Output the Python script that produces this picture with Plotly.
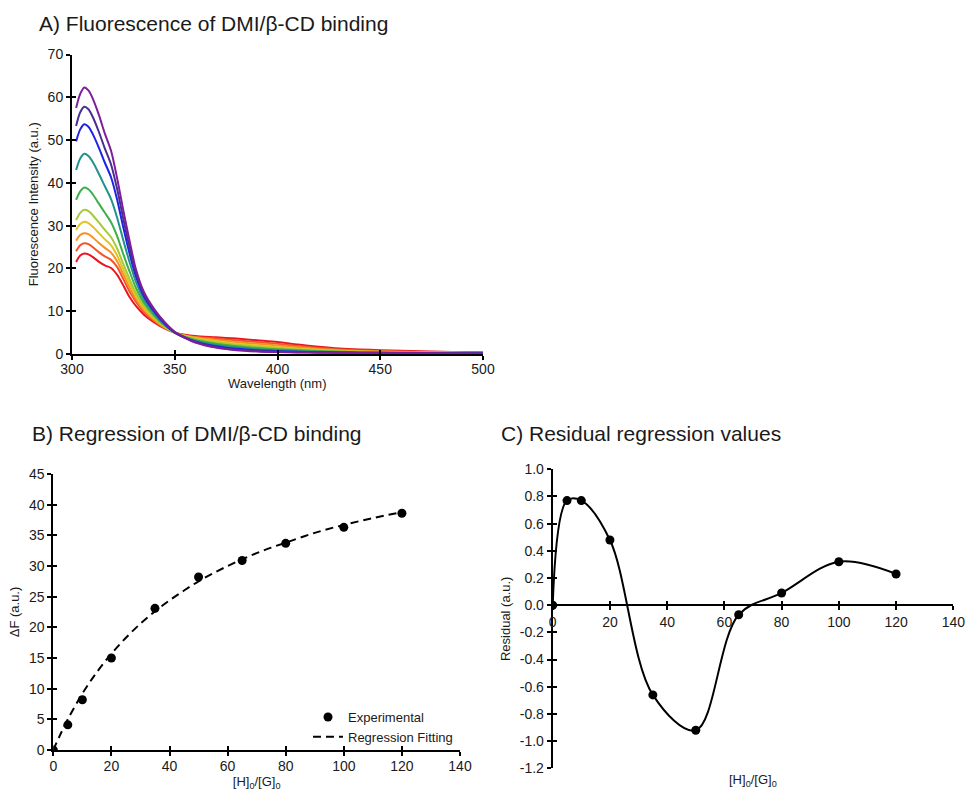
import plotly.graph_objects as go

W, H = 966, 793
FONT = "Liberation Sans, Arial, sans-serif"
TXT = "#1a1a1a"

# ---------------- Panel A data: fluorescence spectra ----------------
wavelength = [302, 304, 306, 308, 310, 313, 316, 319, 322, 325, 328, 331, 335, 340, 345, 350,
              355, 360, 370, 380, 390, 400, 410, 420, 430, 440, 450, 460, 470, 480, 490, 500]

spec_1 = [57.5, 60.8, 62.3, 61.6, 59.8, 56.0, 51.5, 47.5, 41.0, 33.5, 26.5, 20.0, 14.5, 10.5, 7.5, 5.2,
          3.8, 2.7, 1.5, 0.9, 0.6, 0.45, 0.35, 0.3, 0.25, 0.22, 0.2, 0.18, 0.16, 0.15, 0.13, 0.12]
spec_2 = [53.3, 56.5, 57.8, 57.2, 55.5, 52.0, 48.0, 44.3, 38.5, 31.5, 25.0, 19.2, 14.0, 10.2, 7.3, 5.1,
          3.8, 2.8, 1.6, 1.0, 0.7, 0.55, 0.42, 0.35, 0.3, 0.26, 0.23, 0.2, 0.18, 0.17, 0.15, 0.14]
spec_3 = [49.7, 52.5, 53.7, 53.1, 51.5, 48.3, 44.7, 41.3, 36.0, 29.5, 23.5, 18.3, 13.5, 9.9, 7.1, 5.0,
          3.8, 2.9, 1.8, 1.2, 0.85, 0.65, 0.5, 0.42, 0.36, 0.3, 0.27, 0.24, 0.21, 0.19, 0.17, 0.16]
spec_4 = [43.0, 45.7, 46.8, 46.3, 45.0, 42.2, 39.2, 36.2, 31.8, 26.5, 21.5, 17.0, 12.8, 9.5, 6.9, 5.0,
          3.9, 3.1, 2.1, 1.5, 1.1, 0.85, 0.65, 0.52, 0.44, 0.37, 0.32, 0.28, 0.25, 0.22, 0.2, 0.18]
spec_5 = [36.0, 38.0, 38.9, 38.5, 37.4, 35.2, 33.0, 30.8, 27.5, 23.3, 19.3, 15.6, 12.0, 9.0, 6.7, 5.0,
          4.0, 3.3, 2.4, 1.8, 1.4, 1.1, 0.85, 0.65, 0.52, 0.43, 0.37, 0.32, 0.28, 0.25, 0.22, 0.2]
spec_6 = [31.3, 33.0, 33.7, 33.4, 32.5, 30.8, 29.0, 27.3, 24.6, 21.0, 17.5, 14.4, 11.3, 8.6, 6.5, 5.0,
          4.1, 3.5, 2.7, 2.1, 1.7, 1.35, 1.05, 0.8, 0.62, 0.5, 0.43, 0.37, 0.32, 0.28, 0.25, 0.22]
spec_7 = [29.0, 30.4, 30.9, 30.6, 29.8, 28.3, 26.8, 25.4, 23.0, 19.7, 16.5, 13.7, 10.8, 8.3, 6.4, 5.0,
          4.2, 3.7, 3.0, 2.4, 2.0, 1.6, 1.25, 0.95, 0.72, 0.57, 0.48, 0.41, 0.35, 0.3, 0.27, 0.24]
spec_8 = [26.5, 27.8, 28.2, 28.0, 27.3, 26.0, 24.8, 23.7, 21.6, 18.6, 15.6, 13.0, 10.3, 8.0, 6.2, 5.0,
          4.3, 3.9, 3.3, 2.8, 2.4, 2.0, 1.55, 1.15, 0.88, 0.68, 0.57, 0.48, 0.41, 0.35, 0.31, 0.27]
spec_9 = [24.0, 25.4, 25.9, 25.7, 25.0, 23.8, 22.8, 22.0, 20.3, 17.5, 14.6, 12.3, 9.8, 7.7, 6.1, 5.0,
          4.4, 4.0, 3.6, 3.2, 2.8, 2.4, 1.85, 1.4, 1.05, 0.82, 0.68, 0.57, 0.48, 0.41, 0.36, 0.31]
spec_10 = [21.5, 23.0, 23.5, 23.3, 22.7, 21.6, 20.7, 20.1, 18.5, 16.0, 13.3, 11.3, 9.2, 7.4, 6.0, 5.0,
           4.5, 4.2, 3.9, 3.6, 3.2, 2.8, 2.2, 1.7, 1.3, 1.05, 0.9, 0.75, 0.63, 0.53, 0.45, 0.4]

spectra = [spec_10, spec_9, spec_8, spec_7, spec_6, spec_5, spec_4, spec_3, spec_2, spec_1]
spec_colors = ["#E8161F", "#F2552E", "#F7921E", "#E3C41F", "#A5CA38",
               "#3DAE49", "#23918C", "#1E22E6", "#4B2E91", "#7E1E9C"]

# ---------------- Panel B data: regression ----------------
ratio = [0, 5, 10, 20, 35, 50, 65, 80, 100, 120]
delta_f = [0.0, 4.1, 8.2, 15.0, 23.1, 28.2, 30.9, 33.7, 36.3, 38.6]
fit_ratio = [0, 2, 5, 10, 15, 20, 25, 30, 35, 40, 45, 50, 55, 60, 65, 70, 75, 80, 90, 100, 110, 120]
fit_delta_f = [0.0, 2.1, 5.0, 9.2, 12.7, 15.7, 18.3, 20.6, 22.6, 24.4, 26.0, 27.5, 28.8, 30.0,
               31.1, 32.1, 33.0, 33.8, 35.4, 36.7, 37.8, 38.8]

# ---------------- Panel C data: residuals ----------------
residual = [0.0, 0.77, 0.77, 0.48, -0.66, -0.92, -0.07, 0.09, 0.32, 0.23]

# ---------------- tick labels ----------------
a_xticks = [300, 350, 400, 450, 500]
a_yticks = [0, 10, 20, 30, 40, 50, 60, 70]
b_xticks = [0, 20, 40, 60, 80, 100, 120, 140]
b_yticks = [0, 5, 10, 15, 20, 25, 30, 35, 40, 45]
c_xticks = [0, 20, 40, 60, 80, 100, 120, 140]
c_yticks = [-1.2, -1.0, -0.8, -0.6, -0.4, -0.2, 0.0, 0.2, 0.4, 0.6, 0.8, 1.0]
c_ytext = ["-1.2", "-1.0", "-0.8", "-0.6", "-0.4", "-0.2", "0.0", "0.2", "0.4", "0.6", "0.8", "1.0"]


def px(x):
    return x / W


def py(y):
    return 1 - y / H


fig = go.Figure()

for vals, col in zip(spectra, spec_colors):
    fig.add_trace(go.Scatter(x=wavelength, y=vals, mode="lines", line=dict(color=col, width=2, shape="spline", smoothing=0.8),
                             showlegend=False, hoverinfo="skip", xaxis="x", yaxis="y"))

fig.add_trace(go.Scatter(x=ratio, y=delta_f, mode="markers", name="Experimental",
                         marker=dict(color="black", size=9), xaxis="x2", yaxis="y2"))
fig.add_trace(go.Scatter(x=fit_ratio, y=fit_delta_f, mode="lines", name="Regression Fitting",
                         line=dict(color="black", width=2, dash="8px,5px", shape="spline"), xaxis="x2", yaxis="y2"))

fig.add_trace(go.Scatter(x=ratio, y=residual, mode="lines+markers", showlegend=False,
                         line=dict(color="black", width=2, shape="spline", smoothing=1.0),
                         marker=dict(color="black", size=9), xaxis="x3", yaxis="y3"))

# dummy traces for inside-tick overlay axes
for xa, ya in (("x4", "y4"), ("x5", "y5"), ("x6", "y6")):
    fig.add_trace(go.Scatter(x=[None], y=[None], mode="markers", showlegend=False,
                             hoverinfo="skip", xaxis=xa, yaxis=ya))

tickfont = dict(family=FONT, size=14, color=TXT)
base = dict(showline=True, linecolor="black", linewidth=2, ticks="outside", ticklen=4,
            tickwidth=1.5, tickcolor="black", showgrid=False, zeroline=False, automargin=False,
            tickfont=tickfont, tickmode="array", type="linear")
inside = dict(showline=False, ticks="inside", ticklen=4, tickwidth=1.5, tickcolor="black", automargin=False,
              showgrid=False, zeroline=False, showticklabels=False, tickmode="array", type="linear")

A_x = [px(72), px(483)]
A_y = [py(354), py(54.5)]
B_x = [px(53.3), px(460)]
B_y = [py(750), py(474)]
C_x = [px(552.7), px(953.3)]
C_y = [py(768.3), py(469.3)]
C_zero = C_y[0] + (0 - (-1.2)) / 2.2 * (C_y[1] - C_y[0])

title_font = dict(family=FONT, size=13, color=TXT)
head_font = dict(family=FONT, size=21, color=TXT)

fig.update_layout(
    width=W, height=H, margin=dict(l=0, r=0, t=0, b=0, autoexpand=False),
    paper_bgcolor="white", plot_bgcolor="white",
    font=dict(family=FONT, color=TXT),
    xaxis=dict(base, domain=A_x, range=[300, 500], tickvals=a_xticks, anchor="y", ticklabelstandoff=-3),
    yaxis=dict(base, domain=A_y, range=[0, 70], tickvals=a_yticks, anchor="x",
               title=dict(text="Fluorescence Intensity (a.u.)", font=title_font, standoff=6)),
    xaxis2=dict(base, domain=B_x, range=[0, 140], tickvals=b_xticks, anchor="y2", ticklabelstandoff=-2,
                title=dict(text="[H]<sub>0</sub>/[G]<sub>0</sub>", font=title_font, standoff=4)),
    yaxis2=dict(base, domain=B_y, range=[0, 45], tickvals=b_yticks, anchor="x2",
                title=dict(text="ΔF (a.u.)", font=title_font, standoff=6)),
    xaxis3=dict(base, domain=C_x, range=[0, 140], tickvals=c_xticks, anchor="free", position=C_zero),
    yaxis3=dict(base, domain=C_y, range=[-1.2, 1.0], tickvals=c_yticks, ticktext=c_ytext, anchor="x3",
                title=dict(text="Residual (a.u.)", font=title_font, standoff=6)),
    xaxis4=dict(inside, overlaying="x", range=[300, 500], tickvals=a_xticks, anchor="y4"),
    yaxis4=dict(inside, overlaying="y", range=[0, 70], tickvals=a_yticks, anchor="x4"),
    xaxis5=dict(inside, overlaying="x2", range=[0, 140], tickvals=b_xticks, anchor="y5"),
    yaxis5=dict(inside, overlaying="y2", range=[0, 45], tickvals=b_yticks, anchor="x5"),
    xaxis6=dict(inside, overlaying="x3", range=[0, 140], tickvals=c_xticks, anchor="free", position=C_zero),
    yaxis6=dict(inside, overlaying="y3", range=[-1.2, 1.0], tickvals=c_yticks, anchor="x6"),
    legend=dict(x=px(308), y=py(702), xanchor="left", yanchor="top", bgcolor="rgba(0,0,0,0)",
                font=dict(family=FONT, size=13, color=TXT), tracegroupgap=0),
    annotations=[
        dict(text="A) Fluorescence of DMI/β-CD binding", x=px(37), y=py(24), xref="paper", yref="paper",
             xanchor="left", yanchor="middle", showarrow=False, font=head_font),
        dict(text="B) Regression of DMI/β-CD binding", x=px(30), y=py(433), xref="paper", yref="paper",
             xanchor="left", yanchor="middle", showarrow=False, font=head_font),
        dict(text="C) Residual regression values", x=px(499), y=py(433), xref="paper", yref="paper",
             xanchor="left", yanchor="middle", showarrow=False, font=head_font),
        dict(text="Wavelength (nm)", x=(A_x[0] + A_x[1]) / 2, y=py(383), xref="paper", yref="paper",
             xanchor="center", yanchor="middle", showarrow=False, font=title_font),
        dict(text="[H]<sub>0</sub>/[G]<sub>0</sub>", x=(C_x[0] + C_x[1]) / 2, y=py(780), xref="paper", yref="paper",
             xanchor="center", yanchor="middle", showarrow=False, font=title_font),
    ],
)

fig.write_html("out.html")
